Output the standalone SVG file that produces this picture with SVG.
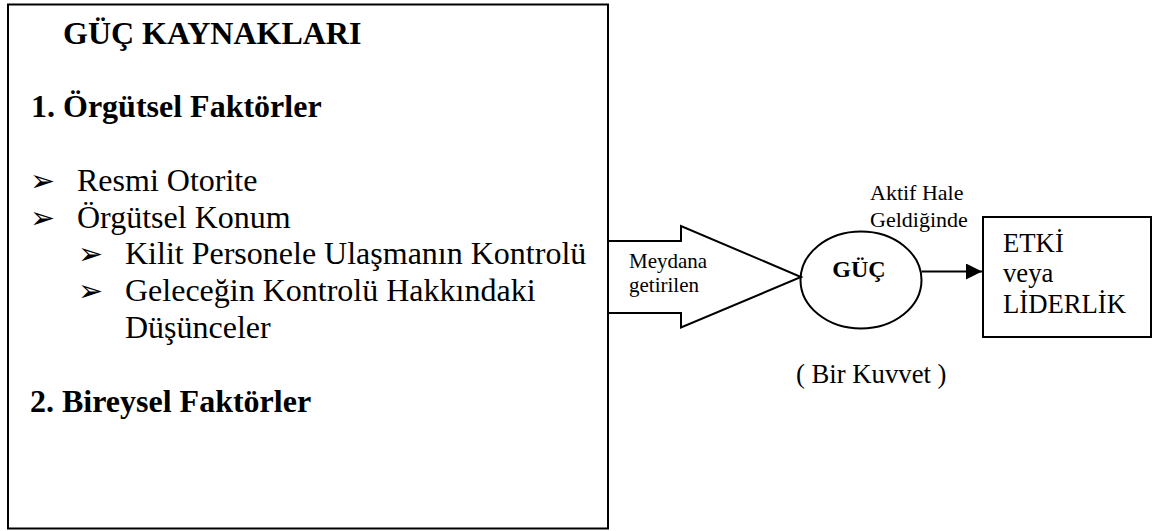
<svg xmlns="http://www.w3.org/2000/svg" width="1153" height="531" viewBox="0 0 1153 531">
<style>
.ln{fill:none;stroke:#000;stroke-width:2}
.t{font-family:"Liberation Serif",serif;fill:#000}
.b{font-weight:bold}
.m{font-size:32px}
.s{font-size:21px}
.bl{font-family:"DejaVu Sans",sans-serif;font-size:30px;fill:#000}
</style>
<defs>
<marker id="ah" viewBox="0 0 16 16" refX="16" refY="8" markerWidth="16" markerHeight="16" markerUnits="userSpaceOnUse" orient="auto">
<path d="M0,0 L16,8 L0,16 Z" fill="#000"/>
</marker>
</defs>
<rect width="1153" height="531" fill="#fff"/>
<g id="sources">
<rect class="ln" x="8" y="4.5" width="600" height="524"/>
<text class="t b m" x="63" y="44">GÜÇ KAYNAKLARI</text>
<text class="t b m" x="31" y="117">1. Örgütsel Faktörler</text>
<text class="bl" x="30" y="191">➢</text>
<text class="t m" x="77" y="191">Resmi Otorite</text>
<text class="bl" x="30" y="227.5">➢</text>
<text class="t m" x="77" y="227.5">Örgütsel Konum</text>
<text class="bl" x="78" y="264">➢</text>
<text class="t m" x="125" y="264">Kilit Personele Ulaşmanın Kontrolü</text>
<text class="bl" x="78" y="301">➢</text>
<text class="t m" x="125" y="301">Geleceğin Kontrolü Hakkındaki</text>
<text class="t m" x="125" y="338">Düşünceler</text>
<text class="t b m" x="30" y="411.5">2. Bireysel Faktörler</text>
</g>
<g id="produced">
<polyline class="ln" points="608,241 681,241 681,226 801,277 681,327.5 681,313 608,313"/>
<text class="t s" x="629" y="268">Meydana</text>
<text class="t s" x="629" y="292">getirilen</text>
</g>
<g id="power">
<ellipse class="ln" cx="861" cy="280" rx="60.5" ry="48.5"/>
<text class="t b" x="859" y="277" font-size="24" text-anchor="middle">GÜÇ</text>
<text class="t" x="796" y="383" font-size="26.7">( Bir Kuvvet )</text>
</g>
<g id="influence">
<rect class="ln" x="983" y="217" width="168" height="120"/>
<text class="t" x="1003" y="252" font-size="26.7">ETKİ</text>
<text class="t" x="1003" y="282" font-size="26.7">veya</text>
<text class="t" x="1003" y="313" font-size="26.7">LİDERLİK</text>
</g>
<g id="connectors">
<line class="ln" x1="921.5" y1="271.5" x2="982" y2="271.5" marker-end="url(#ah)"/>
<text class="t" x="870" y="200" font-size="22">Aktif Hale</text>
<text class="t" x="870" y="227" font-size="22">Geldiğinde</text>
</g>
</svg>
